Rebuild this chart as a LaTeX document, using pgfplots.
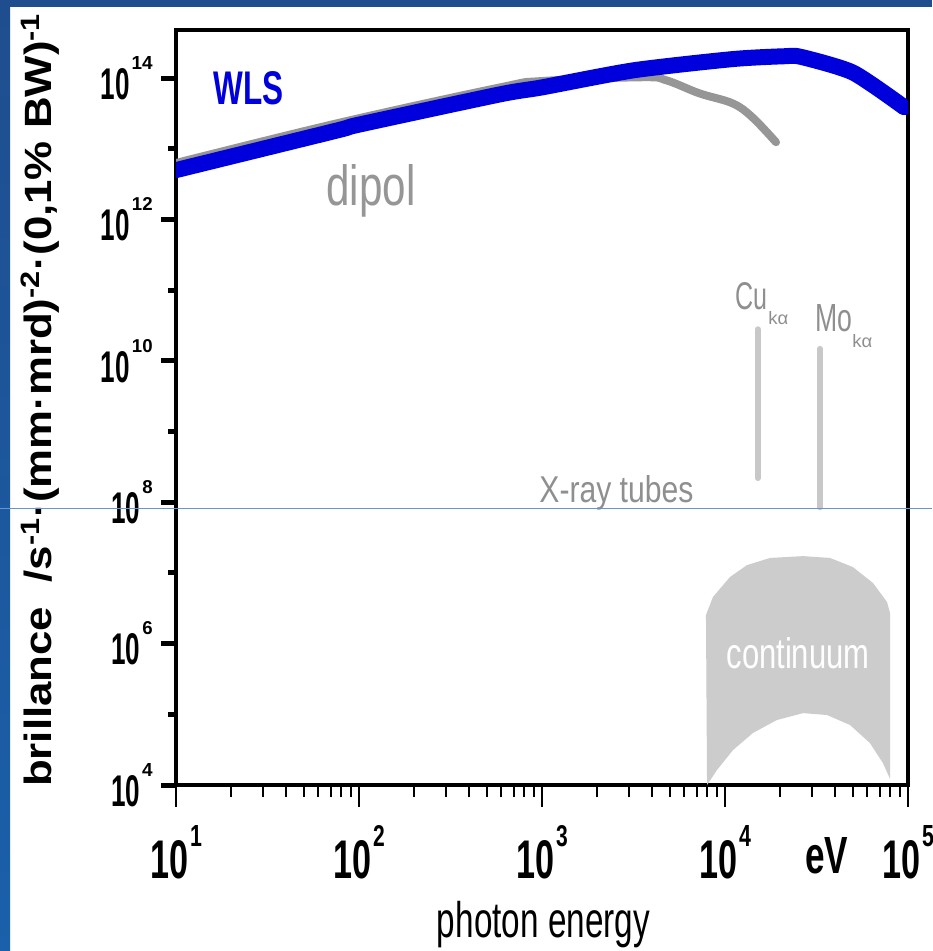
\documentclass[border=0pt]{standalone}
\usepackage{fontspec}
\setmainfont{Liberation Sans}
\usepackage{graphicx}
\usepackage{pgfplots}
\pgfplotsset{compat=1.18}
\definecolor{wlsblue}{RGB}{0,0,220}
\definecolor{dipgray}{RGB}{150,150,150}
\definecolor{txtgray}{RGB}{143,143,143}
\definecolor{linegray}{RGB}{200,200,200}
\definecolor{contgray}{RGB}{204,204,204}
\definecolor{frametop}{RGB}{31,78,142}
\definecolor{framebot}{RGB}{26,96,170}
\definecolor{thinblue}{RGB}{100,150,215}
\newcommand{\xl}[1]{\resizebox{19pt}{19pt}{\bfseries 10}\hspace{1pt}\raisebox{16pt}{\scalebox{0.7}[1]{\resizebox{!}{10.5pt}{\bfseries #1}}}}
\newcommand{\yl}[1]{\resizebox{14.5pt}{15.5pt}{\bfseries 10}\hspace{1pt}\raisebox{15pt}{\resizebox{!}{6.5pt}{\bfseries #1}}}
\begin{document}
\begin{tikzpicture}
\useasboundingbox (0,0) rectangle (466pt,-475.5pt);
\fill[white] (0,0) rectangle (466pt,-475.5pt);
\shade[top color=frametop, bottom color=framebot] (0,0) rectangle (5pt,-475.5pt);
\fill[frametop] (0,0) rectangle (466pt,-3.5pt);
\begin{axis}[
  at={(88pt,-392.5pt)}, anchor=south west,
  scale only axis, width=366pt, height=377.5pt,
  xmode=log, ymode=log,
  xmin=10, xmax=1e5, ymin=1e4, ymax=4.8e14,
  axis line style={line width=2pt},
  tick align=outside, xtick pos=left, ytick pos=left,
  major tick length=7.5pt, minor tick length=4pt,
  xtick={10,100,1000,10000,100000},
  xticklabels={\xl{1},\xl{2},\xl{3},\xl{4},\xl{5}},
  minor xtick={20,30,40,50,60,70,80,90,200,300,400,500,600,700,800,900,2000,3000,4000,5000,6000,7000,8000,9000,20000,30000,40000,50000,60000,70000,80000,90000},
  ytick={1e4,1e6,1e8,1e10,1e12,1e14},
  yticklabels={\yl{4},\yl{6},\yl{8},\yl{10},\yl{12},\yl{14}},
  minor ytick={1e5,1e7,1e9,1e11,1e13},
  every major x tick/.append style={line width=1pt, black, /pgfplots/major tick length=11pt},
  every minor x tick/.append style={line width=1pt, black, /pgfplots/minor tick length=6pt},
  every major y tick/.append style={line width=2.5pt, black},
  every minor y tick/.append style={line width=2.5pt, black},
  xticklabel style={anchor=north, inner sep=0pt, yshift=-12.5pt},
  yticklabel style={anchor=east, inner sep=0pt, xshift=-4pt},
  xlabel={\resizebox{106.5pt}{\height}{\fontsize{25}{25}\selectfont photon energy}},
  xlabel style={at={(axis description cs:0.502,-0.2026)}, anchor=base, inner sep=0pt},
  ylabel={\resizebox{387pt}{\height}{\fontsize{19}{19}\selectfont\bfseries brillance\ \ /s\textsuperscript{-1}·(mm·mrd)\textsuperscript{-2}·(0,1\% BW)\textsuperscript{-1}}},
  ylabel style={at={(axis description cs:-0.1694,0.51)}, anchor=base, inner sep=0pt},
]
% continuum
\addplot[draw=none, fill=contgray] coordinates {
 (7870,2.54e6) (8590,4.56e6) (10640,8.75e6) (13180,1.29e7) (17620,1.63e7) (26700,1.73e7)
 (37500,1.63e7) (50000,1.21e7) (64400,7.2e6) (76800,3.88e6) (79800,2.71e6)
 (79800,1.22e4) (72900,2.05e4) (61900,3.93e4) (48200,7.06e4) (36100,9.78e4) (26700,1.04e5)
 (19200,8.3e4) (14200,5.44e4) (11070,3.13e4) (9040,1.63e4) (7980,1.0e4)
} -- cycle;
% X-ray tube lines
\addplot[linegray, line width=3pt, line cap=round] coordinates {(1.51e4,2.8e10) (1.51e4,2.2e8)};
\addplot[linegray, line width=3pt, line cap=round] coordinates {(3.3e4,1.48e10) (3.3e4,8.5e7)};
% dipol
\addplot[dipgray, line width=4pt, line cap=round, smooth, tension=0.6] coordinates {
 (10,6.3e12) (76,2.3e13) (590,7.4e13) (1000,9.1e13) (3550,1.03e14) (4790,9.3e13)
 (7240,6.1e13) (11000,4.4e13) (14100,2.8e13) (19000,1.24e13)
};
% WLS
\addplot[wlsblue, line width=8pt, line cap=round, smooth, tension=0.4] coordinates {
 (10,5.0e12) (76,1.82e13) (100,2.2e13) (590,5.9e13) (1000,7.4e13) (3160,1.29e14)
 (11000,1.86e14) (21000,2.04e14) (26000,2.0e14) (50000,1.2e14) (95000,3.9e13)
};
\end{axis}
\begin{scope}[x=0.5pt,y=-0.5pt]
\node[anchor=base west, inner sep=0pt, text=wlsblue] at (213,105) {\resizebox{35pt}{16.5pt}{\bfseries WLS}};
\node[anchor=base west, inner sep=0pt, text=dipgray] at (326,206) {\resizebox{44.5pt}{20.5pt}{dipol}};
\node[anchor=base west, inner sep=0pt, text=txtgray] at (539,502) {\resizebox{77pt}{13.5pt}{X-ray tubes}};
\node[anchor=base west, inner sep=0pt, text=txtgray] at (735,310) {\resizebox{16pt}{13.5pt}{Cu}};
\node[anchor=base west, inner sep=0pt, text=txtgray] at (768,325) {\resizebox{10pt}{6.5pt}{kα}};
\node[anchor=base west, inner sep=0pt, text=txtgray] at (815,332) {\resizebox{18.5pt}{13.5pt}{Mo}};
\node[anchor=base west, inner sep=0pt, text=txtgray] at (852,348) {\resizebox{10pt}{6.5pt}{kα}};
\node[anchor=base, inner sep=0pt, text=white] at (798,668) {\resizebox{71.5pt}{15.5pt}{continuum}};
\node[anchor=base west, inner sep=0pt] at (805,873) {\resizebox{21.5pt}{18pt}{\bfseries eV}};
\draw[thinblue, line width=0.5pt] (0,508) -- (932,508);
\end{scope}
\end{tikzpicture}
\end{document}
